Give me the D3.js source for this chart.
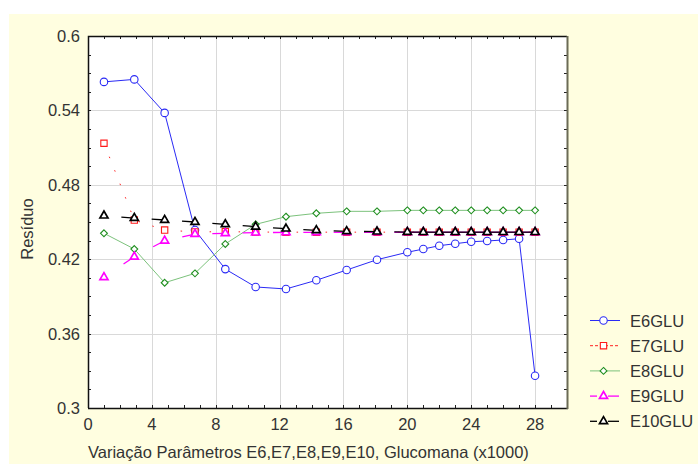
<!DOCTYPE html>
<html lang="en">
<head>
<meta charset="UTF-8">
<title>Resíduo x Glucomana</title>
<style>
  body { margin: 0; background: #fff; }
  svg { display: block; font-family: "Liberation Sans", Arial, sans-serif; }
  .tick-label { font-size: 16.5px; fill: #333; }
  .title { font-size: 16.5px; fill: #333; }
</style>
</head>
<body>
<svg id="chart" width="698" height="464"></svg>
<script src="https://cdn.jsdelivr.net/npm/d3@7"></script>
<script>
// x values (Glucomana x1000)
const xVals = [1, 2.9, 4.8, 6.7, 8.6, 10.5, 12.4, 14.3, 16.2, 18.1, 20, 21, 22, 23, 24, 25, 26, 27, 28];

const e6 = [0.563, 0.565, 0.538, 0.4435, 0.412, 0.3976, 0.396, 0.403, 0.4113, 0.4196, 0.4256, 0.4282, 0.4309, 0.4325, 0.4341, 0.4347, 0.4355, 0.4365, 0.326];
const e7 = [0.5135, 0.4516, 0.4435, 0.442, 0.4422, 0.4419, 0.4418, 0.4418, 0.4418, 0.4418, 0.4418, 0.4418, 0.4418, 0.4418, 0.4418, 0.4418, 0.4418, 0.4418, 0.4418];
const e8 = [0.4409, 0.4282, 0.401, 0.4086, 0.4323, 0.4481, 0.4543, 0.457, 0.4586, 0.4586, 0.4594, 0.4594, 0.4594, 0.4594, 0.4594, 0.4594, 0.4594, 0.4594, 0.4594];
const e9 = [0.4054, 0.422, 0.4349, 0.4403, 0.4409, 0.4414, 0.4416, 0.4417, 0.4417, 0.4417, 0.4417, 0.4417, 0.4417, 0.4417, 0.4417, 0.4417, 0.4417, 0.4417, 0.4417];
const e10 = [0.4551, 0.4532, 0.4516, 0.45, 0.4481, 0.4462, 0.4446, 0.4433, 0.4425, 0.4422, 0.4419, 0.4418, 0.4418, 0.4418, 0.4418, 0.4418, 0.4418, 0.4418, 0.4418];

const seriesNames = ["E6GLU", "E7GLU", "E8GLU", "E9GLU", "E10GLU"];
const xTicks = [0, 4, 8, 12, 16, 20, 24, 28];
const yTicks = [0.3, 0.36, 0.42, 0.48, 0.54, 0.6];

const series = [
  { name: seriesNames[0], values: e6, line: "#2a2af5", mark: "#2a2af5", sym: d3.symbolCircle, size: 44, style: "solid" },
  { name: seriesNames[1], values: e7, line: "#ff2020", mark: "#ff1a1a", sym: d3.symbolSquare, size: 40, style: "dot" },
  { name: seriesNames[2], values: e8, line: "#7cc27c", mark: "#1f8f1f", sym: d3.symbolDiamond2, size: 30, style: "solid" },
  { name: seriesNames[3], values: e9, line: "#ff00ff", mark: "#ff00ff", sym: d3.symbolTriangle, size: 28, style: "tail" },
  { name: seriesNames[4], values: e10, line: "#000", mark: "#000", sym: d3.symbolTriangle, size: 28, style: "tail" }
];

const svg = d3.select("#chart");
const pLeft = 88, pRight = 567, pTop = 36, pBottom = 408;

// panel background
svg.append("rect").attr("x", 9).attr("y", 14).attr("width", 689).attr("height", 450).attr("fill", "#fffee0");

const x = d3.scaleLinear().domain([0, 30]).range([pLeft, pRight]);
const y = d3.scaleLinear().domain([0.3, 0.6]).range([pBottom, pTop]);

svg.append("rect").attr("x", pLeft).attr("y", pTop).attr("width", pRight - pLeft).attr("height", pBottom - pTop).attr("fill", "#fff");

// grid
const grid = svg.append("g").attr("stroke", "#d9d9d9").attr("stroke-width", 1);
grid.selectAll(".gx").data(xTicks.filter(d => d > 0)).enter().append("line")
  .attr("x1", d => Math.round(x(d)) + 0.5).attr("x2", d => Math.round(x(d)) + 0.5)
  .attr("y1", pTop).attr("y2", pBottom);
grid.selectAll(".gy").data(yTicks.filter(d => d > 0.3 && d < 0.6)).enter().append("line")
  .attr("y1", d => Math.round(y(d)) + 0.5).attr("y2", d => Math.round(y(d)) + 0.5)
  .attr("x1", pLeft).attr("x2", pRight);

// ticks inside the frame
const tk = svg.append("g").attr("stroke", "#222").attr("stroke-width", 1);
const xMinor = d3.range(1, 30, 1);
tk.selectAll(".tb").data(xMinor).enter().append("line")
  .attr("x1", d => Math.round(x(d)) + 0.5).attr("x2", d => Math.round(x(d)) + 0.5)
  .attr("y1", pBottom).attr("y2", pBottom - 3);
tk.selectAll(".tt").data(xMinor).enter().append("line")
  .attr("x1", d => Math.round(x(d)) + 0.5).attr("x2", d => Math.round(x(d)) + 0.5)
  .attr("y1", pTop).attr("y2", pTop + 3);
const yMinor = d3.range(1, 20).map(i => 0.3 + i * 0.015);
tk.selectAll(".tl").data(yMinor).enter().append("line")
  .attr("y1", d => Math.round(y(d)) + 0.5).attr("y2", d => Math.round(y(d)) + 0.5)
  .attr("x1", pLeft).attr("x2", pLeft + 3);
tk.selectAll(".tr").data(yMinor).enter().append("line")
  .attr("y1", d => Math.round(y(d)) + 0.5).attr("y2", d => Math.round(y(d)) + 0.5)
  .attr("x1", pRight).attr("x2", pRight - 3);

// series lines
const pts = s => s.values.map((v, i) => [x(xVals[i]), y(v)]);
series.forEach(s => {
  const p = pts(s);
  const g = svg.append("g").attr("fill", "none").attr("stroke", s.line).attr("stroke-width", 1);
  if (s.style === "tail") {
    // short dash ending at each marker
    for (let i = 1; i < p.length; i++) {
      const [x0, y0] = p[i - 1], [x1, y1] = p[i];
      const len = Math.hypot(x1 - x0, y1 - y0);
      const t = Math.max(0, (len - 13) / len);
      g.append("line").attr("x1", x0 + (x1 - x0) * t).attr("y1", y0 + (y1 - y0) * t)
        .attr("x2", x1).attr("y2", y1).attr("stroke-width", 1.3);
    }
  } else {
    const path = g.append("path").attr("d", d3.line()(p));
    if (s.style === "dot") path.attr("stroke-dasharray", "1.5,13");
  }
  svg.append("g").selectAll("path").data(p).enter().append("path")
    .attr("transform", d => `translate(${d[0]},${d[1]})`)
    .attr("d", d3.symbol().type(s.sym).size(s.size))
    .attr("fill", "#fff").attr("stroke", s.mark).attr("stroke-width", s.sym === d3.symbolTriangle ? 1.7 : 1.1);
});

// frame
svg.append("path").attr("d", `M${pLeft + 0.5},${pBottom} V${pTop + 0.5} H${pRight}`)
  .attr("fill", "none").attr("stroke", "#111").attr("stroke-width", 1.5);
svg.append("line").attr("x1", pLeft).attr("x2", pRight + 1).attr("y1", pBottom + 0.5).attr("y2", pBottom + 0.5)
  .attr("stroke", "#111").attr("stroke-width", 1.5);
svg.append("line").attr("x1", pRight + 0.5).attr("x2", pRight + 0.5).attr("y1", pTop).attr("y2", pBottom + 1)
  .attr("stroke", "#6b6b55").attr("stroke-width", 2);

// tick labels
svg.selectAll(".xl").data(xTicks).enter().append("text").attr("class", "tick-label")
  .attr("x", d => x(d)).attr("y", 430).attr("text-anchor", "middle").text(d => d);
svg.selectAll(".yl").data(yTicks).enter().append("text").attr("class", "tick-label")
  .attr("x", 80).attr("y", d => y(d) + 6).attr("text-anchor", "end").text(d => d3.format("~g")(d));

// axis titles
svg.append("text").attr("class", "title").attr("x", 88).attr("y", 458)
  .text("Variação Parâmetros E6,E7,E8,E9,E10, Glucomana (x1000)");
svg.append("text").attr("class", "title").attr("text-anchor", "middle")
  .attr("transform", "translate(33,229) rotate(-90)").text("Resíduo");

// legend
const lg = svg.append("g");
series.forEach((s, i) => {
  const ly = 320.5 + i * 25.2;
  const row = lg.append("g");
  if (s.style === "tail") {
    row.append("line").attr("x1", 590).attr("x2", 597).attr("y1", ly).attr("y2", ly).attr("stroke", s.line).attr("stroke-width", 1.3);
    row.append("line").attr("x1", 608).attr("x2", 619).attr("y1", ly).attr("y2", ly).attr("stroke", s.line).attr("stroke-width", 1.3);
  } else {
    const ln = row.append("line").attr("x1", 590).attr("x2", 620).attr("y1", ly).attr("y2", ly).attr("stroke", s.line);
    if (s.style === "dot") ln.attr("stroke-dasharray", "3,2");
  }
  row.append("path").attr("transform", `translate(603.5,${ly})`)
    .attr("d", d3.symbol().type(s.sym).size(s.size))
    .attr("fill", "#fff").attr("stroke", s.mark).attr("stroke-width", s.sym === d3.symbolTriangle ? 1.7 : 1.1);
  row.append("text").attr("class", "title").attr("x", 630).attr("y", ly + 6).text(s.name);
});
</script>
</body>
</html>
